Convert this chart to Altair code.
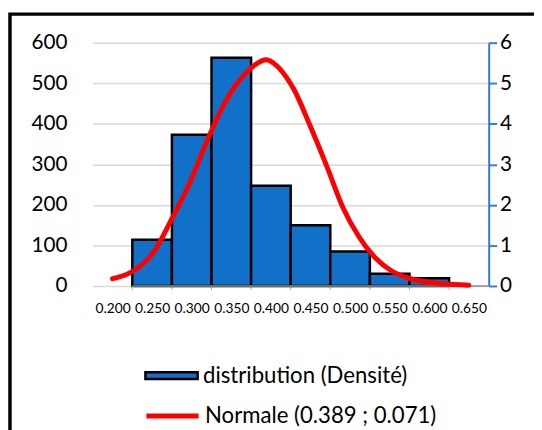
import altair as alt
import pandas as pd

# Histogram categories (bin centres) and heights
bin_centers = [0.200, 0.250, 0.300, 0.350, 0.400, 0.450, 0.500, 0.550, 0.600, 0.650]
bin_values = [0, 114, 373, 563, 247, 150, 85, 30, 19, 0]

# Normal curve
curve_x = [0.200, 0.235, 0.251, 0.276, 0.297, 0.3175, 0.338, 0.3586, 0.379, 0.394, 0.408,
           0.4205, 0.429, 0.4495, 0.470, 0.4906, 0.511, 0.532, 0.5526, 0.573, 0.6145, 0.650]
curve_y = [0.18, 0.49, 0.81, 1.70, 2.52, 3.49, 4.38, 5.03, 5.44, 5.58, 5.42,
           5.12, 4.85, 3.95, 2.98, 1.95, 1.22, 0.69, 0.37, 0.20, 0.06, 0.02]

bar_label = "distribution (Densité)"
line_label = "Normale (0.389 ; 0.071)"
tick_positions = [0.225, 0.275, 0.325, 0.375, 0.425, 0.475, 0.525, 0.575, 0.625]

FONT = "Lato"
BLUE = "#1170C8"
AXIS_BLUE = "#2F7BD6"
RED = "#FF0000"

bars_df = pd.DataFrame({"center": bin_centers, "value": bin_values, "series": bar_label})
curve_df = pd.DataFrame({"x": curve_x, "y": curve_y, "series": line_label})
ticks_df = pd.DataFrame({"x": tick_positions})
base_df = pd.DataFrame({"x": [0.225], "x2": [0.675]})
frame_df = pd.DataFrame({"k": [0]})

W, H = 402, 247
xscale = alt.Scale(domain=[0.175, 0.675], nice=False, zero=False)
yl = alt.Scale(domain=[0, 600], nice=False)
yr = alt.Scale(domain=[0, 6], nice=False)

x_axis = alt.Axis(values=bin_centers, format=".3f", labelFontSize=14, labelFont=FONT,
                  labelColor="black", ticks=False, domain=False, grid=False, labelPadding=16,
                  title=None, labelFlush=False)

bars = alt.Chart(bars_df).transform_filter("datum.value > 0").transform_calculate(
    x0="datum.center - 0.025", x1="datum.center + 0.025"
).mark_bar(stroke="black", strokeWidth=2.5).encode(
    x=alt.X("x0:Q", scale=xscale, axis=x_axis),
    x2="x1:Q",
    y=alt.Y("value:Q", scale=yl, axis=alt.Axis(
        values=[0, 100, 200, 300, 400, 500, 600], grid=True, gridColor="#D9D9D9",
        gridWidth=1.5, ticks=False, domain=False, labelFontSize=21, labelFont=FONT,
        labelColor="black", labelPadding=26, title=None)),
    y2=alt.datum(0),
    fill=alt.Fill("series:N", scale=alt.Scale(domain=[bar_label], range=[BLUE]),
                  legend=alt.Legend(title=None, orient="none", legendX=52, legendY=310,
                                    symbolType="M-1,-0.13L1,-0.13L1,0.13L-1,0.13Z",
                                    symbolSize=2809, symbolStrokeColor="black",
                                    symbolStrokeWidth=2.5, labelFont=FONT, labelFontSize=22.5,
                                    labelColor="black", labelOffset=4, padding=0,
                                    labelLimit=400)),
)

baseline = alt.Chart(base_df).mark_rule(color="#8C8C8C", strokeWidth=1.5).encode(
    x=alt.X("x:Q", scale=xscale, axis=x_axis), x2="x2:Q",
    y=alt.value(H),
)

ticks = alt.Chart(ticks_df).mark_rule(color="#A6A6A6", strokeWidth=1).encode(
    x=alt.X("x:Q", scale=xscale, axis=x_axis),
    y=alt.value(H), y2=alt.value(H + 4),
)

line = alt.Chart(curve_df).mark_line(strokeWidth=5, strokeCap="round",
                                     interpolate="monotone").encode(
    x=alt.X("x:Q", scale=xscale, axis=x_axis),
    y=alt.Y("y:Q", scale=yr, axis=alt.Axis(
        orient="right", values=[0, 1, 2, 3, 4, 5, 6], grid=False,
        domainColor=AXIS_BLUE, domainWidth=2, tickColor=AXIS_BLUE, tickWidth=2,
        tickSize=8, labelFontSize=21, labelFont=FONT, labelColor="black",
        labelPadding=3, title=None)),
    stroke=alt.Stroke("series:N", scale=alt.Scale(domain=[line_label], range=[RED]),
                      legend=alt.Legend(title=None, orient="none", legendX=52, legendY=350,
                                        symbolType="stroke", symbolSize=2809,
                                        symbolStrokeWidth=5, labelFont=FONT,
                                        labelFontSize=22.5, labelColor="black",
                                        labelOffset=4, padding=0, labelLimit=400)),
)

# outer frame of the chart area
frame = alt.Chart(frame_df).mark_rect(fillOpacity=0, stroke="black", strokeWidth=3.5).encode(
    x=alt.value(-84), x2=alt.value(700), y=alt.value(-29), y2=alt.value(600),
)

chart = alt.layer(bars, baseline, ticks, line, frame).resolve_scale(
    y="independent", fill="independent", stroke="independent"
).properties(
    width=W, height=H,
    autosize=alt.AutoSizeParams(type="none"),
    padding={"left": 86, "top": 32, "right": 46, "bottom": 143},
).configure_view(stroke=None)

chart.save("out.html", embed_options={"renderer": "svg", "actions": False})
